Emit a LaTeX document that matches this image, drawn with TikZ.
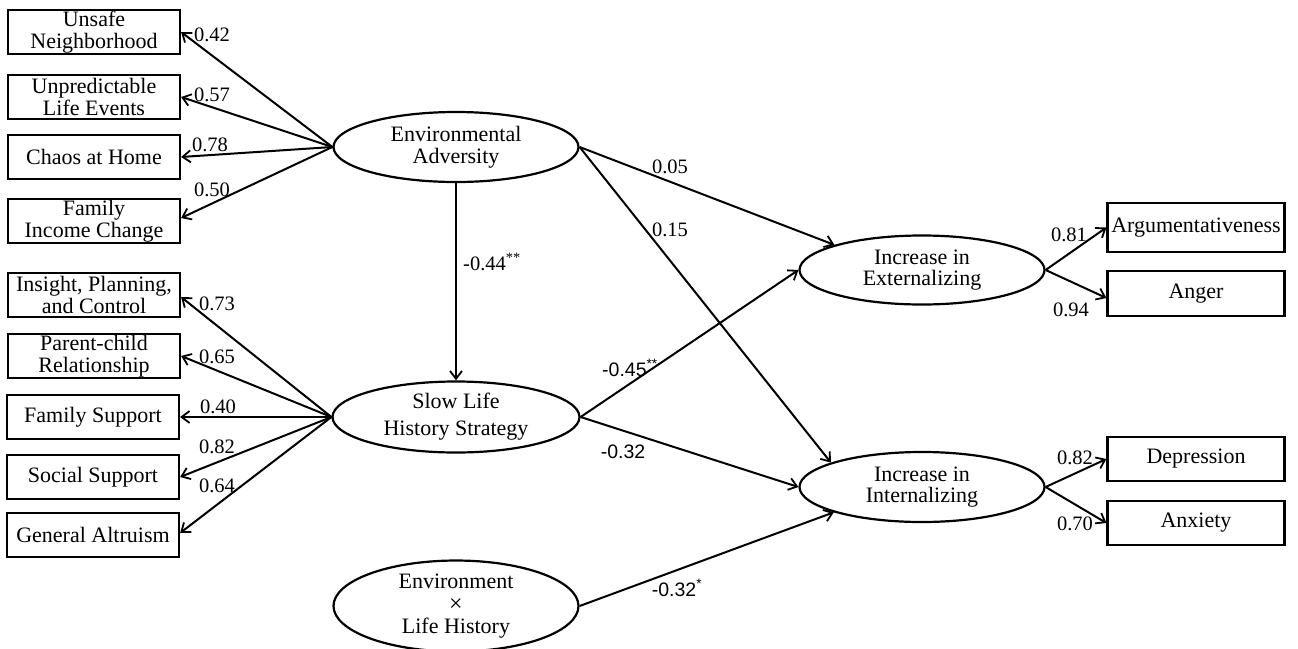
\documentclass[tikz,border=0pt]{standalone}
\usepackage{fontspec}
\setmainfont{Liberation Serif}
\setsansfont{Liberation Sans}
\usetikzlibrary{shapes.geometric,arrows.meta}
\begin{document}
\begin{tikzpicture}[x=1pt,y=-1pt,
 box/.style={draw,line width=2.2pt,minimum width=172pt,minimum height=44pt,inner sep=0pt,align=center,font=\fontsize{22}{22}\selectfont},
 rbox/.style={box,minimum width=177pt},
 lat/.style={draw,ellipse,line width=2.2pt,inner sep=0pt,align=center,minimum width=245pt,minimum height=70pt,font=\fontsize{22}{21.5}\selectfont},
 conn/.style={line width=2pt,-{Straight Barb[length=8pt,width=12pt,line width=1.8pt]}},
 num/.style={font=\fontsize{20.5}{20}\selectfont,inner sep=0pt},
 snum/.style={font=\sffamily\fontsize{19.5}{19}\selectfont,inner sep=0pt}]
\useasboundingbox (0,0) rectangle (1298,648);

% left indicator boxes
\node[box] (b1) at (94,32) {Unsafe\\Neighborhood};
\node[box] (b2) at (94,97) {Unpredictable\\Life Events};
\node[box] (b3) at (94,157) {Chaos at Home};
\node[box] (b4) at (94,221) {Family\\Income Change};
\node[box] (b5) at (94,295) {Insight, Planning,\\and Control};
\node[box] (b6) at (94,356) {Parent-child\\Relationship};
\node[box] (b7) at (93,417) {Family Support};
\node[box] (b8) at (93,477) {Social Support};
\node[box] (b9) at (93,535) {General Altruism};

% latent variables
\node[lat] (ea) at (456,147) {Environmental\\Adversity};
\node[lat,minimum width=247pt,minimum height=71pt,font=\fontsize{22}{27}\selectfont] (slow) at (456,417) {Slow Life\\History Strategy};
\node[lat,minimum height=82pt,font=\fontsize{22}{21.5}\selectfont] (exl) at (456,606) {Environment\\[2pt]{\fontsize{24}{21.5}\selectfont ×}\\Life History};
\node[lat,minimum height=69pt] (ext) at (922,270) {Increase in\\Externalizing};
\node[lat] (int) at (922,487) {Increase in\\Internalizing};

% right indicator boxes
\node[rbox,minimum height=49pt] (arg) at (1196,227.5) {Argumentativeness};
\node[rbox,minimum height=45pt] (ang) at (1196,293.5) {Anger};
\node[rbox] (dep) at (1196,459) {Depression};
\node[rbox] (anx) at (1196,523) {Anxiety};

% loadings
\draw[conn] (ea.west) -- (b1.east);
\draw[conn] (ea.west) -- (b2.east);
\draw[conn] (ea.west) -- (b3.east);
\draw[conn] (ea.west) -- ([yshift=3pt]b4.east);
\draw[conn] (slow.west) -- ([yshift=-2pt]b5.east);
\draw[conn] (slow.west) -- (b6.east);
\draw[conn] (slow.west) -- (b7.east);
\draw[conn] (slow.west) -- (b8.east);
\draw[conn] (slow.west) -- ([yshift=2pt]b9.east);
\draw[conn] (ext.east) -- (arg.west);
\draw[conn] (ext.east) -- ([yshift=-4.5pt]ang.west);
\draw[conn] (int.east) -- (dep.west);
\draw[conn] (int.east) -- (anx.west);

% structural paths
\draw[conn] (ea.south) -- (slow.north);
\draw[conn] (ea.east) -- (ext.164);
\draw[conn] (ea.east) -- (int.165);
\draw[conn] (slow.east) -- (ext.west);
\draw[conn] (slow.east) -- (int.west);
\draw[conn] (exl.east) -- (int.196);

% labels
\node[num] (l1) at (212,35) {0.42};
\node[num] (l2) at (212,95) {0.57};
\node[num] (l3) at (210,145) {0.78};
\node[num] (l4) at (212,190) {0.50};
\node[num] (l5) at (217,304) {0.73};
\node[num] (l6) at (217,357) {0.65};
\node[num] (l7) at (218,407) {0.40};
\node[num] (l8) at (217,447) {0.82};
\node[num] (l9) at (217,486) {0.64};
\node[num] (l10) at (670,167) {0.05};
\node[num] (l11) at (670,230) {0.15};
\node[num,anchor=west] (l12) at (463,262) {-0.44\textsuperscript{**}};
\node[snum] (l13) at (630,368) {-0.45\textsuperscript{**}};
\node[snum] (l14) at (623,452) {-0.32};
\node[snum] (l15) at (677,588) {-0.32\textsuperscript{*}};
\node[num] (l16) at (1069,235) {0.81};
\node[num] (l17) at (1071,310) {0.94};
\node[num] (l18) at (1075,458) {0.82};
\node[num] (l19) at (1075,524) {0.70};
\end{tikzpicture}
\end{document}
